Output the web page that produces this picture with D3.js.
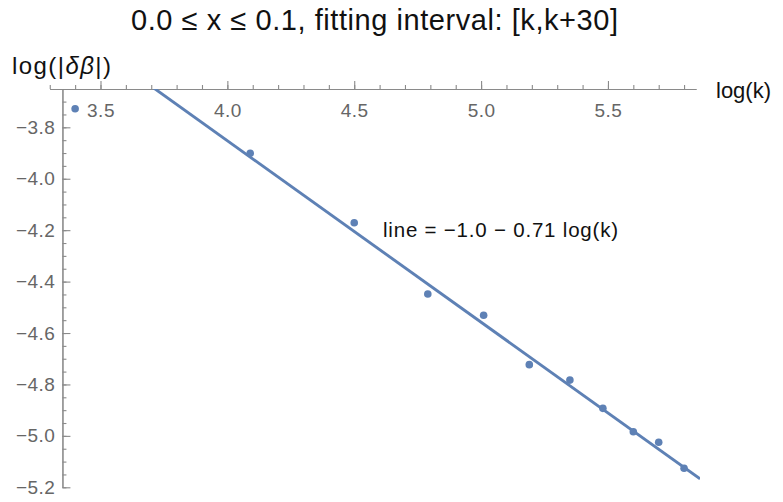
<!DOCTYPE html>
<html>
<head>
<meta charset="utf-8">
<script src="https://cdn.jsdelivr.net/npm/d3@7/dist/d3.min.js"></script>
<style>
  body { margin: 0; background: #fff; }
  svg { display: block; font-family: 'Liberation Sans', Arial, sans-serif; }
</style>
</head>
<body>
<svg id="chart" width="783" height="502"></svg>
<script>
// data
const logK = [3.40, 4.09, 4.50, 4.79, 5.01, 5.19, 5.35, 5.48, 5.60, 5.70, 5.80]
const logDeltaBeta = [-3.728, -3.901, -4.171, -4.448, -4.531, -4.723, -4.783, -4.893, -4.984, -5.025, -5.126]
const fitLine = { intercept: -1.028, slope: -0.706 }
const xTickValues = [3.5, 4.0, 4.5, 5.0, 5.5]
const yTickValues = [-3.8, -4.0, -4.2, -4.4, -4.6, -4.8, -5.0, -5.2]

const title = '0.0 ≤ x ≤ 0.1, fitting interval: [k,k+30]'
const annotation = 'line = −1.0 − 0.71 log(k)'

const BLUE = '#5e81b5'
const AXIS_COLOR = '#8a8a8a'
const LABEL_COLOR = '#666'

const svg = d3.select('#chart')

const x = d3.scaleLinear().domain([3.3, 5.847]).range([49.75, 696])
const y = d3.scaleLinear().domain([-5.2, -3.651]).range([487.3, 89])
const yAxisAt = 3.35
const fmt = d3.format('.1f')

// x axis (ticks point up, labels below)
const xAxisG = svg.append('g').attr('transform', `translate(0,${y.range()[1]})`)
xAxisG.call(d3.axisBottom(x).tickValues(x.ticks(25)).tickSizeInner(-4).tickSizeOuter(0).tickFormat(''))
xAxisG.append('g').call(d3.axisBottom(x).tickValues(xTickValues).tickSizeInner(-8).tickSizeOuter(0)
  .tickPadding(14.5).tickFormat(fmt))

// y axis (ticks point right, labels left)
const yAxisG = svg.append('g').attr('transform', `translate(${x(yAxisAt)},0)`)
yAxisG.call(d3.axisLeft(y).tickValues(y.ticks(30)).tickSizeInner(-4).tickSizeOuter(0).tickFormat(''))
yAxisG.append('g').call(d3.axisLeft(y).tickValues(yTickValues).tickSizeInner(-8).tickSizeOuter(0)
  .tickPadding(7).tickFormat(fmt))

svg.selectAll('.domain, .tick line').attr('stroke', AXIS_COLOR).attr('stroke-width', 1.1)
svg.selectAll('.tick text')
  .attr('fill', LABEL_COLOR)
  .style('font-size', '19px')
  .style('letter-spacing', '0.5px')
  .style('font-family', "'Liberation Sans', Arial, sans-serif")

// clip region for the fit line
svg.append('clipPath').attr('id', 'plot-clip')
  .append('rect')
  .attr('x', x(3.3)).attr('y', y.range()[1])
  .attr('width', x.range()[1] - x(3.3) + 4)
  .attr('height', y.range()[0] - y.range()[1] + 10)

const lineX = [3.3, 5.863]
const fit = d3.line()
  .x(d => x(d))
  .y(d => y(fitLine.intercept + fitLine.slope * d))

svg.append('path')
  .datum(lineX)
  .attr('clip-path', 'url(#plot-clip)')
  .attr('d', fit)
  .attr('fill', 'none')
  .attr('stroke', BLUE)
  .attr('stroke-width', 2.9)

svg.append('g')
  .selectAll('circle')
  .data(logK.map((k, i) => ({ k, v: logDeltaBeta[i] })))
  .join('circle')
  .attr('cx', d => x(d.k))
  .attr('cy', d => y(d.v))
  .attr('r', 3.8)
  .attr('fill', BLUE)

// texts
svg.append('text')
  .attr('x', 131).attr('y', 29.5)
  .attr('textLength', 487)
  .attr('lengthAdjust', 'spacing')
  .style('font-size', '29px')
  .attr('fill', '#111')
  .text(title)

const yLabel = svg.append('text')
  .attr('x', 12).attr('y', 73.5)
  .attr('textLength', 99)
  .attr('lengthAdjust', 'spacing')
  .style('font-size', '24px')
  .attr('fill', '#111')
yLabel.append('tspan').text('log(|')
yLabel.append('tspan').style('font-style', 'italic').text('δβ')
yLabel.append('tspan').text('|)')

svg.append('text')
  .attr('x', 716).attr('y', 97.5)
  .style('font-size', '22px')
  .attr('fill', '#111')
  .text('log(k)')

svg.append('text')
  .attr('x', 383).attr('y', 236.7)
  .attr('textLength', 235)
  .attr('lengthAdjust', 'spacing')
  .style('font-size', '20.5px')
  .attr('fill', '#111')
  .text(annotation)
</script>
</body>
</html>
